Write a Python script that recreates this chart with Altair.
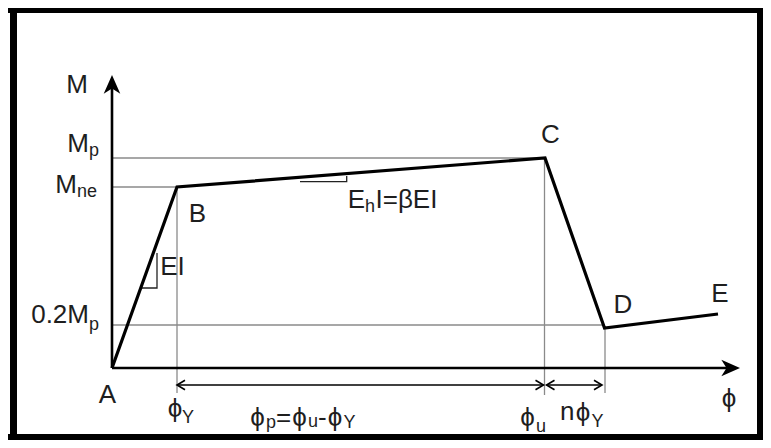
import altair as alt
import pandas as pd

# ---- Moment-curvature backbone (diagram units: phi right, M up; A at origin)
pt_name = ["A", "B", "C", "D", "E"]
pt_phi = [0, 65, 433, 492.5, 606]
pt_M = [0, 181, 210, 40, 54]

# Reference moment levels: Mp, Mne, 0.2Mp (thin lines from the M axis)
lvl_M = [210, 181, 43]
lvl_end = [433, 65, 492.5]

# Curvature markers phiY, phiu, phiu+n*phiY (thin verticals)
cur_phi = [65, 432.5, 493]
cur_top = [181, 210, 40]
cur_bot = [-25, -27, -25]

# Dimension lines (phi_p and n*phiY spans)
dim_from = [65, 434.5]
dim_to = [431.5, 490]
dim_M = [-17, -17]

# Slope triangles (EI and EhI = beta EI)
tri_id = ["EI", "EI", "EI", "Eh", "Eh", "Eh"]
tri_phi = [29, 45, 45, 188, 234.7, 234.7]
tri_M = [80, 80, 115, 186.3, 186.3, 192]

# Axes
axis_phi_end = 628
axis_M_end = 293

# Labels: text, phi, M, size, align
lab_text = ["A", "B", "C", "D", "E", "M",
            "M", "p", "M", "ne", "0.2M", "p",
            "EI", "E", "h", "I=βEI",
            "ϕ", "Y",
            "ϕ", "p", "=", "ϕ", "u", "-", "ϕ", "Y",
            "ϕ", "u", "n", "ϕ", "Y", "ϕ"]
lab_phi = [-4.5, 85.5, 438.5, 511, 608, -35,
           -23, -23, -35, -35, -23, -23,
           60.5, 253, 253, 263.5,
           63, 70,
           145.5, 154, 164, 187.5, 196, 206, 223, 231.5,
           415.5, 424, 448, 471, 479.5, 617]
lab_M = [-35, 146, 225, 55, 66, 275,
         216, 212, 175, 171, 45, 38,
         93, 160, 156, 160,
         -49, -55,
         -58, -60, -58, -58, -59, -58, -58, -60,
         -58, -64, -52, -53, -59, -39]
lab_size = [26, 26, 26, 26, 26, 26,
            26, 18, 26, 18, 26, 18,
            26, 26, 18, 26,
            26, 18,
            26, 18, 26, 26, 18, 26, 26, 18,
            26, 18, 26, 26, 18, 26]
lab_align = ["center", "center", "center", "center", "center", "center",
             "right", "left", "right", "left", "right", "left",
             "center", "right", "left", "left",
             "center", "left",
             "center", "left", "left", "center", "left", "left", "center", "left",
             "center", "left", "left", "center", "left", "center"]

FONT = "Liberation Sans, Arial, sans-serif"
TXT = "#1e1e1e"
GRAY = "#8a8a8a"

xs = alt.Scale(domain=[-104, 651], nice=False, zero=False)
ys = alt.Scale(domain=[-72, 360], nice=False, zero=False)


def X(f):
    return alt.X(f, type="quantitative", scale=xs, axis=None)


def Y(f):
    return alt.Y(f, type="quantitative", scale=ys, axis=None)


def rules(df, **kw):
    return alt.Chart(df).mark_rule(**kw).encode(
        x=X("x"), y=Y("y"), x2=alt.X2("x2"), y2=alt.Y2("y2"))


# Frame (thick black border)
frame_df = pd.DataFrame({
    "x": [-98.5, -104, 648, -104],
    "x2": [-98.5, 651, 648, 651],
    "y": [360, 357.5, 360, -69],
    "y2": [-72, 357.5, -72, -69],
    "w": [7, 5, 6, 6],
})
frame = alt.Chart(frame_df).mark_rule(color="black").encode(
    x=X("x"), y=Y("y"), x2=alt.X2("x2"), y2=alt.Y2("y2"),
    size=alt.Size("w:Q", scale=None))

lvl_df = pd.DataFrame({"x": [0] * 3, "x2": lvl_end, "y": lvl_M, "y2": lvl_M})
levels = rules(lvl_df, color=GRAY, strokeWidth=1.3)

cur_df = pd.DataFrame({"x": cur_phi, "x2": cur_phi, "y": cur_top, "y2": cur_bot})
verts = rules(cur_df, color=GRAY, strokeWidth=1.3)

dim_df = pd.DataFrame({"x": dim_from, "x2": dim_to, "y": dim_M, "y2": dim_M})
dims = rules(dim_df, color="black", strokeWidth=1.6)

chev = "M2,-1.2L0,0L2,1.2"
chev_df = pd.DataFrame({
    "x": [dim_from[0], dim_to[0], dim_from[1], dim_to[1]],
    "y": [dim_M[0], dim_M[0], dim_M[1], dim_M[1]],
    "a": [0, 180, 0, 180],
})
chevs = alt.Chart(chev_df).mark_point(
    shape=chev, filled=False, size=64, color="black", strokeWidth=1.6, opacity=1
).encode(x=X("x"), y=Y("y"), angle=alt.Angle("a:Q", scale=None))

axes_df = pd.DataFrame({"x": [0, 0], "x2": [axis_phi_end - 8, 0],
                        "y": [0, 0], "y2": [0, axis_M_end - 8]})
axes = rules(axes_df, color="black", strokeWidth=2.6)

arrow = "M0,0L0.8,1.8L0,1.3L-0.8,1.8Z"
arr_df = pd.DataFrame({"x": [axis_phi_end, 0], "y": [0, axis_M_end], "a": [90, 0]})
arrows = alt.Chart(arr_df).mark_point(
    shape=arrow, filled=True, size=430, color="black", opacity=1, strokeWidth=0
).encode(x=X("x"), y=Y("y"), angle=alt.Angle("a:Q", scale=None))

curve_df = pd.DataFrame({"x": pt_phi, "y": pt_M, "i": list(range(len(pt_phi))), "n": pt_name})
curve = alt.Chart(curve_df).mark_line(color="black", strokeWidth=3.2, strokeJoin="miter").encode(
    x=X("x"), y=Y("y"), order="i:Q")

tri_df = pd.DataFrame({"x": tri_phi, "y": tri_M, "g": tri_id, "i": list(range(len(tri_id)))})
tris = alt.Chart(tri_df).mark_line(color="#222", strokeWidth=1.3).encode(
    x=X("x"), y=Y("y"), detail="g:N", order="i:Q")

lab_df = pd.DataFrame({"t": lab_text, "x": lab_phi, "y": lab_M, "s": lab_size, "al": lab_align})
text_layers = []
for al in ["left", "center", "right"]:
    sub = lab_df[lab_df["al"] == al]
    text_layers.append(
        alt.Chart(sub).mark_text(font=FONT, color=TXT, align=al, baseline="alphabetic").encode(
            x=X("x"), y=Y("y"), text="t:N", size=alt.Size("s:Q", scale=None))
    )

chart = alt.layer(
    levels, verts, dims, chevs, tris, axes, arrows, curve, *text_layers, frame
).properties(
    width=755, height=432, padding=0,
    autosize=alt.AutoSizeParams(type="none"),
    background="white",
).configure_view(strokeWidth=0)

chart.save("out.html", embed_options={"renderer": "svg", "actions": False})
